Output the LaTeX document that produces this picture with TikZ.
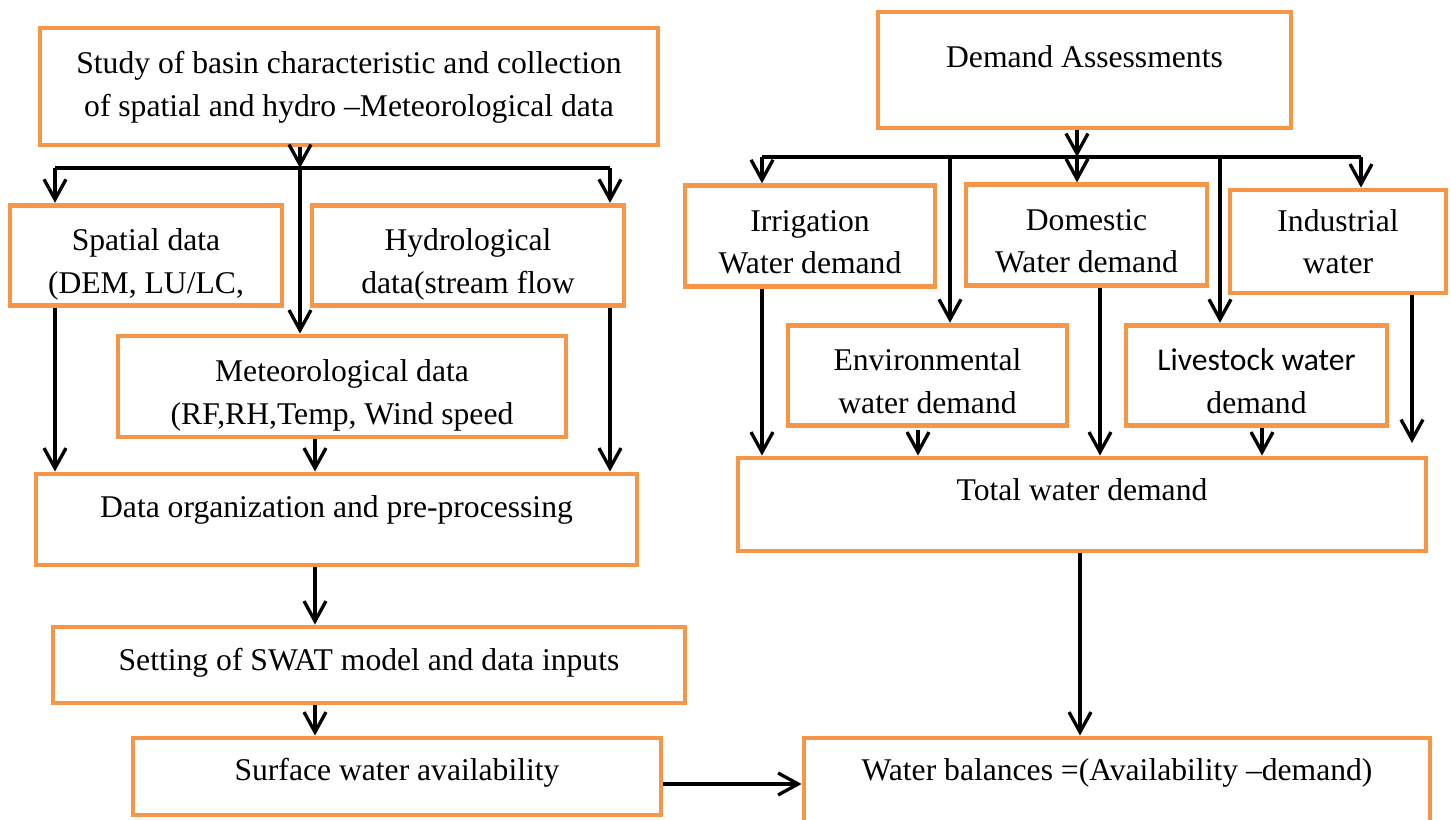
\documentclass[tikz,border=0pt]{standalone}
\usepackage{fontspec}
\setmainfont{Liberation Serif}
\newfontfamily\calibri{Carlito}
\usetikzlibrary{arrows.meta}
\definecolor{boxorange}{HTML}{F79646}
\newcommand\boxtext[3][26pt]{\begin{tabular}{@{}c@{}}\rule{0pt}{#1}#2\\#3\end{tabular}}
\tikzset{
    box/.style 2 args={draw=boxorange, line width=2.8pt, inner sep=0pt,
        minimum width=#1*0.02cm, minimum height=#2*0.02cm,
        font=\fontsize{18}{24}\selectfont},
    lift/.style={text height=12.5pt, text depth=#1},
    lift/.default=15pt,
    line/.style={line width=1.9pt},
    arr/.style={line, -{Straight Barb[length=4mm,width=4.4mm]}}
}

\begin{document}
\begin{tikzpicture}[x=0.02cm, y=-0.02cm]
    \useasboundingbox (0,0) rectangle (1451,820);
    \begin{scope}
        \node[box={618}{117}] (study) at (349,86.5) {\boxtext[16.8pt]{Study of basin characteristic and collection}{of spatial and hydro –Meteorological data}};
        \node[box={272}{99}] (spatial) at (146,255.5) {\boxtext{Spatial data}{(DEM, LU/LC,}};
        \node[box={312}{99}] (hydro) at (468,255.5) {\boxtext{Hydrological}{data(stream flow}};
        \node[box={448}{101}] (meteo) at (342,386.5) {\boxtext{Meteorological data}{(RF,RH,Temp, Wind speed}};
        \node[box={601}{91}, lift] (dataorg) at (336.5,519.5) {Data organization and pre-processing};
        \node[box={632}{76}, lift=6.5pt] (swat) at (369,665) {Setting of SWAT model and data inputs};
        \node[box={528}{77}, lift=8.5pt] (surface) at (397,776.5) {Surface water availability};
        \node[box={626}{88}, lift=14.5pt] (balance) at (1117,782) {Water balances =(Availability –demand)};

        \coordinate (busL) at (55,168);
        \coordinate (busM) at (300,168);
        \coordinate (busR) at (610,168);
        \coordinate (colL) at (315,450);
        \coordinate (link) at (700,784);
        \draw[arr] (study.south -| busM) -- (busM);
        \draw[line] (busL) -- (busR);
        \draw[arr] (busL) -- (busL |- spatial.north);
        \draw[arr] (busR) -- (busR |- hydro.north);
        \draw[arr] (busM) -- (busM |- meteo.north);
        \draw[arr] (spatial.south -| busL) -- (busL |- dataorg.north);
        \draw[arr] (hydro.south -| busR) -- (busR |- dataorg.north);
        \draw[arr] (meteo.south -| colL) -- (colL |- dataorg.north);
        \draw[arr] (dataorg.south -| colL) -- (colL |- swat.north);
        \draw[arr] (swat.south -| colL) -- (colL |- surface.north);
        \draw[arr] (surface.east |- link) -- (balance.west |- link);
    \end{scope}
    \begin{scope}
        \node[box={413}{116}, lift] (demand) at (1084.5,70) {Demand Assessments};
        \node[box={250}{92}] (irrig) at (810,236) {\boxtext{Irrigation}{Water demand}};
        \node[box={241}{94}] (domestic) at (1086.5,235) {\boxtext{Domestic}{Water demand}};
        \node[box={216}{103}] (indust) at (1338,241.5) {\boxtext[20pt]{Industrial}{water}};
        \node[box={279}{95}] (env) at (927.5,375.5) {\boxtext{Environmental}{water demand}};
        \node[box={261}{95}] (livestock) at (1256.5,375.5) {\boxtext{\calibri Livestock water}{demand}};
        \node[box={688}{93}, lift=17.5pt] (total) at (1082,504.5) {Total water demand};

        \coordinate (bus) at (1077,157);
        \coordinate (busA) at (762,157);
        \coordinate (busB) at (950,157);
        \coordinate (busC) at (1220,157);
        \coordinate (busD) at (1361,157);
        \coordinate (envout) at (918,430);
        \coordinate (domout) at (1100,300);
        \coordinate (lsout) at (1262,300);
        \coordinate (indout) at (1412,443);
        \coordinate (totout) at (1080,600);
        \draw[arr] (demand.south -| bus) -- (bus);
        \draw[line] (busA) -- (busD);
        \draw[arr] (busA) -- (busA |- irrig.north);
        \draw[arr] (busB) -- (busB |- env.north);
        \draw[arr] (bus) -- (bus |- domestic.north);
        \draw[arr] (busC) -- (busC |- livestock.north);
        \draw[arr] (busD) -- (busD |- indust.north);
        \draw[arr] (irrig.south -| busA) -- (busA |- total.north);
        \draw[arr] (envout) -- (envout |- total.north);
        \draw[arr] (domestic.south -| domout) -- (domout |- total.north);
        \draw[arr] (livestock.south -| lsout) -- (lsout |- total.north);
        \draw[arr] (indust.south -| indout) -- (indout);
        \draw[arr] (total.south -| totout) -- (totout |- balance.north);
    \end{scope}
\end{tikzpicture}
\end{document}
